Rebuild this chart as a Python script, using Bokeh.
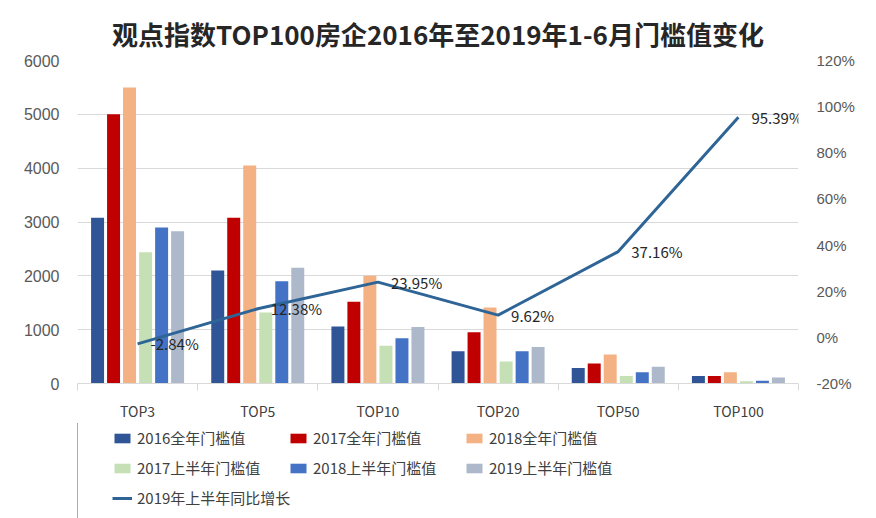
from bokeh.plotting import figure
from bokeh.layouts import column
from bokeh.models import (Range1d, LinearAxis, FixedTicker,
                          PrintfTickFormatter, Legend, LegendItem, ColumnDataSource)
from bokeh.transform import dodge
from bokeh.core.properties import value
from bokeh.embed import file_html
from bokeh.resources import INLINE

# ---------------- data ----------------
categories = ["TOP3", "TOP5", "TOP10", "TOP20", "TOP50", "TOP100"]
full_2016 = [3080, 2100, 1060, 600, 290, 140]
full_2017 = [5000, 3080, 1520, 950, 370, 140]
full_2018 = [5500, 4050, 2000, 1410, 540, 210]
h1_2017 = [2440, 1320, 700, 410, 140, 40]
h1_2018 = [2900, 1900, 840, 600, 210, 50]
h1_2019 = [2830, 2150, 1050, 680, 310, 110]
growth_h1_2019 = [-2.84, 12.38, 23.95, 9.62, 37.16, 95.39]

series_names = ["2016全年门槛值", "2017全年门槛值", "2018全年门槛值",
                "2017上半年门槛值", "2018上半年门槛值", "2019上半年门槛值"]
line_name = "2019年上半年同比增长"
left_ticks = [0, 1000, 2000, 3000, 4000, 5000, 6000]
right_ticks = [-20, 0, 20, 40, 60, 80, 100, 120]
title_text = "观点指数TOP100房企2016年至2019年1-6月门槛值变化"

# category slot positions on the x scale (centre of each slot)
n = len(categories)
cat_x = [i + 0.5 for i in range(n)]
boundary_x = list(range(n + 1))

# ---------------- styles ----------------
bar_colors = ["#2f5597", "#c00000", "#f4b183", "#c5e0b4", "#4472c4", "#adb9ca"]
offsets = [-0.333, -0.2, -0.067, 0.067, 0.2, 0.333]
line_color = "#2e6596"
CJK = "Noto Sans CJK SC"

p = figure(width=876, height=423,
           x_range=Range1d(0, n),
           y_range=Range1d(0, 6000),
           x_axis_location=None,
           output_backend="svg", toolbar_location=None,
           min_border_left=77, min_border_right=78,
           min_border_top=60, min_border_bottom=37)
p.outline_line_color = None
p.background_fill_color = "white"
p.border_fill_color = "white"
p.xgrid.grid_line_color = None

# title
p.title.text = title_text
p.title.align = "center"
p.title.text_font = CJK
p.title.text_font_size = "26px"
p.title.text_font_style = "bold"
p.title.text_color = "#262626"
p.title.standoff = 18

# left axis
p.yaxis.ticker = FixedTicker(ticks=left_ticks)
p.yaxis.axis_line_color = None
p.yaxis.major_tick_line_color = None
p.yaxis.minor_tick_line_color = None
p.yaxis.major_label_text_font = "Liberation Sans"
p.yaxis.major_label_text_font_size = "16px"
p.yaxis.major_label_text_color = "#595959"
p.yaxis.major_label_standoff = 12
p.ygrid.ticker = FixedTicker(ticks=left_ticks)
p.ygrid.grid_line_color = "#d9d9d9"

# right axis
p.extra_y_ranges = {"pct": Range1d(-20, 120)}
raxis = LinearAxis(y_range_name="pct", ticker=FixedTicker(ticks=right_ticks),
                   formatter=PrintfTickFormatter(format="%d%%"),
                   axis_line_color=None, major_tick_line_color=None,
                   minor_tick_line_color=None,
                   major_label_text_font="Liberation Sans",
                   major_label_text_font_size="15px",
                   major_label_text_color="#595959",
                   major_label_standoff=12)
p.add_layout(raxis, "right")

# category axis: labels at slot centres, separator ticks at slot boundaries
xaxis = LinearAxis(ticker=FixedTicker(ticks=cat_x, minor_ticks=boundary_x),
                   major_label_overrides={x: c for x, c in zip(cat_x, categories)},
                   axis_line_color="#d9d9d9",
                   major_tick_line_color=None,
                   minor_tick_line_color="#d9d9d9",
                   minor_tick_out=7, minor_tick_in=0,
                   major_label_text_font=CJK,
                   major_label_text_font_size="14px",
                   major_label_text_color="#404040",
                   major_label_standoff=10)
p.add_layout(xaxis, "below")

# bars
series_vals = [full_2016, full_2017, full_2018, h1_2017, h1_2018, h1_2019]
bar_sources = []
for vals, col, off in zip(series_vals, bar_colors, offsets):
    src = ColumnDataSource(dict(x=cat_x, val=vals))
    bar_sources.append(src)
    p.vbar(x=dodge("x", off), top="val", width=0.108,
           source=src, fill_color=col, line_color=None)

# line
lsrc = ColumnDataSource(dict(x=cat_x, g=growth_h1_2019,
                             lab=[f"{v:.2f}%" for v in growth_h1_2019]))
p.line(x="x", y="g", source=lsrc, y_range_name="pct",
       line_width=3, line_color=line_color)
p.text(x="x", y="g", text="lab", source=lsrc, y_range_name="pct",
       x_offset=13, text_align="left", text_baseline="middle",
       text_font=value(CJK), text_font_size="15px", text_color="#262626")

# ---------------- legend strip (separate figure; its view shows no data) ----------------
q = figure(width=876, height=95, title=None,
           x_range=Range1d(100, 101), y_range=Range1d(100, 101),
           x_axis_location=None, y_axis_location=None,
           output_backend="svg", toolbar_location=None, min_border=0)
q.outline_line_color = None
q.background_fill_color = "white"
q.border_fill_color = "white"
q.grid.visible = False

key_renderers = []
for src, col in zip(bar_sources, bar_colors):
    key_renderers.append(q.vbar(x="x", top="val", width=0.108, source=src,
                                fill_color=col, line_color=None))
key_line = q.line(x="x", y="g", source=lsrc, line_width=3, line_color=line_color)

rows = [
    [LegendItem(label=series_names[i], renderers=[key_renderers[i]]) for i in range(0, 3)],
    [LegendItem(label=series_names[i], renderers=[key_renderers[i]]) for i in range(3, 6)],
    [LegendItem(label=line_name, renderers=[key_line])],
]
row_loc = [(35, 70), (35, 40), (35, 10)]
for items, loc in zip(rows, row_loc):
    lg = Legend(items=items, orientation="horizontal", location=loc,
                glyph_width=20, glyph_height=12, label_standoff=5,
                label_width=145, label_height=20, spacing=6,
                padding=5, margin=0,
                border_line_color=None, background_fill_alpha=0,
                label_text_font=CJK, label_text_font_size="15px",
                label_text_color="#404040")
    q.add_layout(lg)

layout = column(p, q, spacing=0)
open("out.html", "w").write(file_html(layout, INLINE))
